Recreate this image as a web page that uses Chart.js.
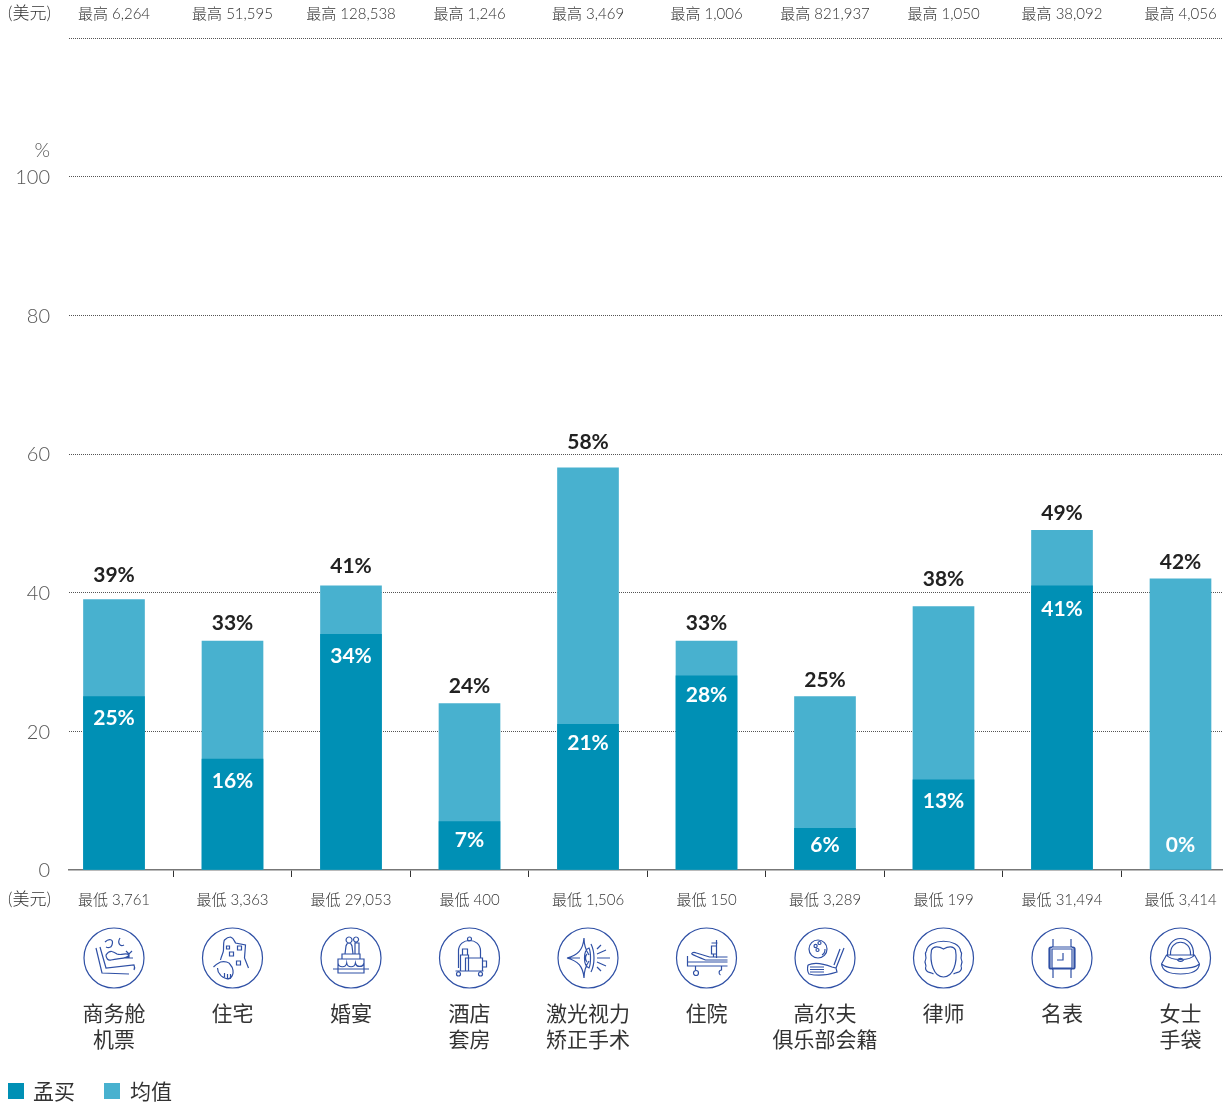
<!DOCTYPE html>
<html>
<head>
<meta charset="utf-8">
<script src="https://cdn.jsdelivr.net/npm/chart.js@4/dist/chart.umd.min.js"></script>
<style>
  html, body { margin: 0; padding: 0; background: #fff; }
  canvas { display: block; }
</style>
</head>
<body>
<canvas id="chart" width="1223" height="1104"></canvas>
<script>
const categories = ['商务舱|机票', '住宅', '婚宴', '酒店|套房', '激光视力|矫正手术', '住院', '高尔夫|俱乐部会籍', '律师', '名表', '女士|手袋'];
const mumbaiValues = [25, 16, 34, 7, 21, 28, 6, 13, 41, 0];
const averageValues = [39, 33, 41, 24, 58, 33, 25, 38, 49, 42];
const highLabels = ['最高 6,264', '最高 51,595', '最高 128,538', '最高 1,246', '最高 3,469', '最高 1,006', '最高 821,937', '最高 1,050', '最高 38,092', '最高 4,056'];
const lowLabels = ['最低 3,761', '最低 3,363', '最低 29,053', '最低 400', '最低 1,506', '最低 150', '最低 3,289', '最低 199', '最低 31,494', '最低 3,414'];
const seriesNames = ['孟买', '均值'];
const unitLabel = '(美元)';

const DARK = '#0090b5';
const LIGHT = '#48b1cf';
const ICON = '#2f50a5';
const LATIN = 'Lato, "Noto Sans CJK SC", sans-serif';

// the value labels do not sit at one fixed distance from the bar tops in the original
const totalLabelLift = [24, 18, 19, 17, 26, 18, 16, 27, 17, 17];
const innerLabelDrop = [22, 22, 22, 19, 19, 19, 20, 21, 24, 20];

// line icons, drawn around the category centre (circle radius 30)
const iconPaths = [
  'M-18-10L-12 15L15 16M-14-11L-8 10L20 7C21 9 21 10 20 12M-8-3C-4-9 0-6 3-4C8-2 12-6 15-3C14 1 6 0-3 2C-6 3-8 0-8-3ZM-9-16C-5-20 0-19-2-13C-3-10-6-10-8-11M6-20C3-15 6-11 10-13M11 0L19 0M15 0L15-5M12-7L15-4L18-7',
  'M-12 2C-11-3-9-5-9-8C-9-13-9-17-8-18C-6-20-4-21-2-21C1-20 2-17 3-15L13-13L12 0L16 10M-19 9C-16 6-14 5-12 4C-8 3-3 4-2 7C1 10 1 15 0 17C-1 20-4 21-5 21C-8 20-11 19-12 17C-14 15-15 12-15 10M-5 16V21M-2 16V21M-8 15V19M-6-12h3v3h-3zM5-12h4v4h-4zM-3-6h4v4h-4zM4 3h4v4h-4z',
  'M-2-21a3 3 0 1 0 .1 0M5-21a2.5 2.5 0 1 0 .1 0M-6-4L-5-12C-4-16 0-16 1-12L2-4M4-4L4-15L8-15L8-4M-9-4H9V1H-9ZM-13 1H13V15H-13ZM-18 11H18M-13 5A4.4 4.4 0 0 0-4.3 5A4.4 4.4 0 0 0 4.4 5A4.4 4.4 0 0 0 13 5',
  'M-11 10L-11-7C-11-21 11-21 11-7L11 0M-2-19a2 2 0 1 0 4 0a2 2 0 1 0-4 0M-4 0H13V13H-4ZM-9-3H-1V13H-9ZM-7-3V-9H-2V-3M13 3H17V9H13M-14 13H14M-13 16a2 2 0 1 0 4 0a2 2 0 1 0-4 0M9 16a2 2 0 1 0 4 0a2 2 0 1 0-4 0',
  'M-21 0C-10-3-5-8-4-20C-4-11-1-6 1-3M-21 0C-10 3-5 8-4 20C-4 11-1 6 1 3M1-10C-5-8-5 8 1 10C3 6 3-6 1-10ZM-1-4C-3-2-3 2-1 4M-19 0H-8M3-14C7-6 7 6 3 14M9-9L13-13M9-4L18-8M9 0H22M9 4L18 8M9 9L13 13',
  'M-19-2V8H21M-19 4H21M-15-4C-14-6-12-6-10-5L3-1H21M-15-4C-11-2-6 0-1 2H21M-11 8V12M-13 15a2.5 2.5 0 1 0 5 0a2.5 2.5 0 1 0-5 0M15 8V12C12 12 12 16 14 17M5-15H11M10-18V0M5-12H10V-4H5ZM7-4V-1',
  'M-16-9a9 9 0 1 0 18 0a9 9 0 1 0-18 0M-11-12a1.6 1.6 0 1 0 3.2 0a1.6 1.6 0 1 0-3.2 0M-7-15a1.5 1.5 0 1 0 3 0a1.5 1.5 0 1 0-3 0M-9-8a1.5 1.5 0 1 0 3 0a1.5 1.5 0 1 0-3 0M0-9C0-6-1-4-3-3M-17 7C-11 4-3 5 7 9L11 10L19-10M15-9L9 7M-17 7C-18 11-18 13-16 16C-8 18 3 17 12 14L11 10M-15 9H-1M-15 11.5H-1M-15 14H-1',
  'M-12-8C-10-12-5-12 0-9C5-12 10-12 12-8C14 4 10 19 0 19C-10 19-14 4-12-8ZM-17-7C-16-20 16-20 17-7C20-4 16-1 18 2C20 5 16 7 18 10C18 15 13 14 10 16M-17-7C-20-4-16-1-18 2C-20 5-16 7-18 10C-18 15-13 14-10 16',
  'M-9-19V-12C-9-11-10-11-12-10V10C-10 11-9 11-9 12V20M9-19V-12C9-11 10-11 12-10V10C10 11 9 11 9 12V20M-13-9Q-13-11-11-11H11Q13-11 13-9V9Q13 11 11 11H-11Q-13 11-13 9ZM-10-9H10V10H-10ZM1-5V2H-5',
  'M-13-3C-14-25 14-25 13-3M-10-3C-11-20 11-20 10-3M-19 6L-14-3H14L19 6C18 14 8 16 0 16C-8 16-18 14-19 6ZM-19 6C-12 12 12 12 19 6M-14-3C-10 3 10 3 14-3M-3 2C-1 0 1 0 3 2C1 4-1 4-3 2Z'
].map(d => new Path2D(d));

function drawText(ctx, text, x, y, font, color, align) {
  ctx.font = font;
  ctx.fillStyle = color;
  ctx.textAlign = align || 'center';
  ctx.textBaseline = 'middle';
  ctx.fillText(text, x, y);
}

const annotationsPlugin = {
  id: 'annotations',
  afterDatasetsDraw(chart) {
    const ctx = chart.ctx;
    const xScale = chart.scales.x;
    const yScale = chart.scales.y;
    const base = yScale.getPixelForValue(0);
    ctx.save();

    drawText(ctx, '%', 50, 151, '300 20px ' + LATIN, '#555', 'right');
    drawText(ctx, unitLabel, 8, 14, '300 17px ' + LATIN, '#333', 'left');
    drawText(ctx, unitLabel, 8, 900, '300 17px ' + LATIN, '#333', 'left');

    categories.forEach((name, i) => {
      const x = xScale.getPixelForValue(i);
      drawText(ctx, highLabels[i], x, 14, '300 15px ' + LATIN, '#333');
      drawText(ctx, lowLabels[i], x, 900, '300 15px ' + LATIN, '#333');

      const total = averageValues[i];
      drawText(ctx, total + '%', x, yScale.getPixelForValue(total) - totalLabelLift[i], 'bold 21px ' + LATIN, '#222');
      const inner = Math.min(yScale.getPixelForValue(mumbaiValues[i]) + innerLabelDrop[i], base - 25);
      drawText(ctx, mumbaiValues[i] + '%', x, inner, 'bold 21px ' + LATIN, '#fff');

      ctx.save();
      ctx.translate(x, 958);
      ctx.strokeStyle = ICON;
      ctx.lineWidth = 1.2;
      ctx.beginPath();
      ctx.arc(0, 0, 30, 0, Math.PI * 2);
      ctx.stroke();
      ctx.stroke(iconPaths[i]);
      ctx.restore();

      name.split('|').forEach((line, n) => {
        drawText(ctx, line, x, 1014 + n * 26, '400 21px ' + LATIN, '#333');
      });
    });

    // legend
    [[8, 33], [104, 130]].forEach((pos, i) => {
      ctx.fillStyle = chart.data.datasets[i].backgroundColor;
      ctx.fillRect(pos[0], 1083, 16, 16);
      drawText(ctx, seriesNames[i], pos[1], 1092, '400 21px ' + LATIN, '#333', 'left');
    });
    ctx.restore();
  }
};

new Chart(document.getElementById('chart'), {
  type: 'bar',
  data: {
    datasets: [
      { label: seriesNames[0], backgroundColor: DARK, data: mumbaiValues.map((v, i) => ({ x: i, y: v })) },
      { label: seriesNames[1], backgroundColor: LIGHT, data: averageValues.map((v, i) => ({ x: i, y: v })) }
    ]
  },
  options: {
    responsive: false,
    animation: false,
    layout: { padding: { top: 38, left: 0, right: 0, bottom: 0 } },
    datasets: { bar: { grouped: false, barThickness: 61 } },
    plugins: { legend: { display: false }, tooltip: { enabled: false } },
    scales: {
      x: {
        type: 'linear',
        offset: false,
        min: -0.3797,
        max: 9.3586,
        afterBuildTicks: scale => { scale.ticks = categories.slice(1).map((c, i) => ({ value: i + 0.5 })); },
        afterFit: scale => { scale.height = 234; },
        border: { color: '#777', width: 1.5 },
        grid: { offset: false, drawOnChartArea: false, drawTicks: true, tickLength: 7, color: '#333', tickWidth: 1 },
        ticks: { display: false }
      },
      y: {
        min: 0,
        max: 120,
        afterFit: scale => { scale.width = 69; },
        border: { display: false, dash: [1, 1] },
        grid: {
          drawTicks: false,
          lineWidth: 1,
          color: ctx => ctx.tick.value === 0 ? 'rgba(0,0,0,0)' : '#555'
        },
        ticks: {
          stepSize: 20,
          padding: 19,
          labelOffset: 1,
          color: '#555',
          font: { family: LATIN, size: 20, weight: '300' },
          callback: v => v > 100 ? '' : v
        }
      }
    }
  },
  plugins: [annotationsPlugin]
});
</script>
</body>
</html>
